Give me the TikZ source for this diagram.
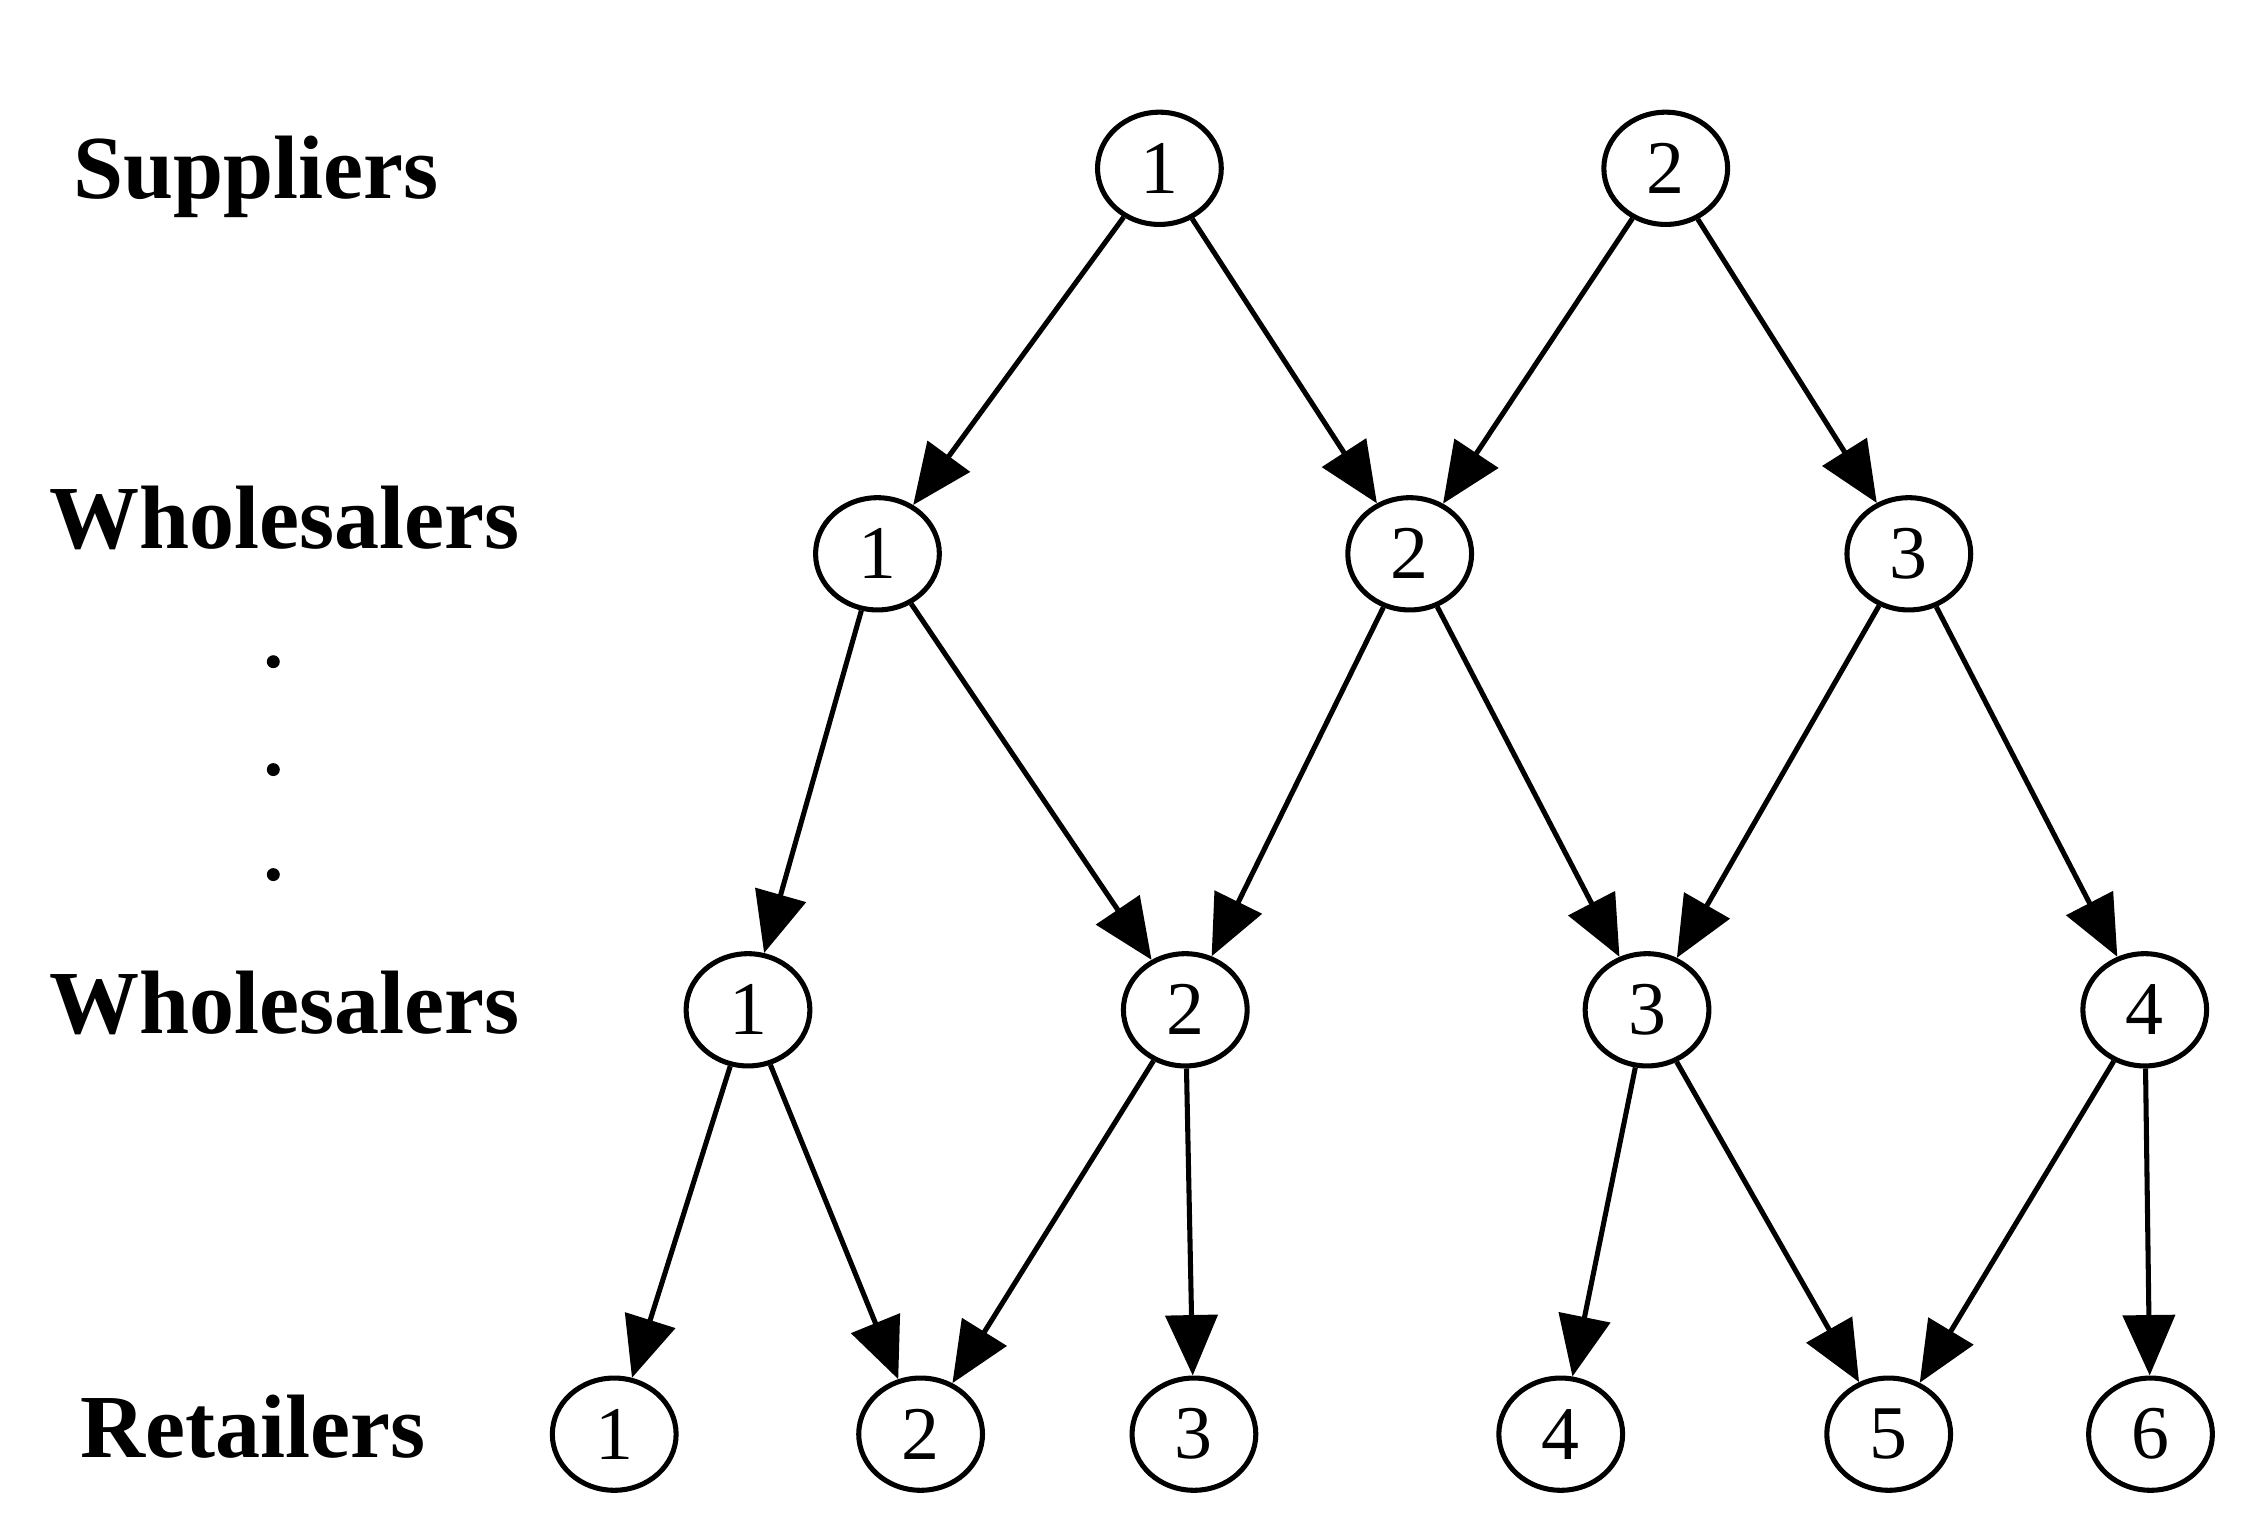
\documentclass[tikz,border=0pt]{standalone}
\usepackage{fontspec}
\setmainfont{Liberation Serif}
\usetikzlibrary{arrows.meta,shapes.geometric}
\begin{document}
\begin{tikzpicture}[x=0.01cm,y=-0.01cm,
  nd/.style={draw,ellipse,line width=1pt,minimum width=0.86cm,minimum height=0.78cm,inner sep=0pt,font=\fontsize{15}{15}\selectfont},
  lab/.style={font=\bfseries\fontsize{17.8}{18}\selectfont},
  ar/.style={-{Triangle[length=0.42cm,width=0.36cm]},line width=1pt}]
\useasboundingbox (0,0) rectangle (1560,1069);
\node[lab] (ls) at (178,123) {Suppliers};
\node[lab] (lw1) at (198,360) {Wholesalers};
\node[lab] (lw2) at (198,697) {Wholesalers};
\node[lab] (lr) at (176,992) {Retailers};
\foreach \y/\n in {460/a,535/b,608/c} \fill (190,\y) circle (0.045cm);
\node[nd] (s1) at (806,117) {1};
\node[nd] (s2) at (1158,117) {2};
\node[nd] (w1) at (610,385) {1};
\node[nd] (w2) at (980,385) {2};
\node[nd] (w3) at (1327,385) {3};
\node[nd] (v1) at (520,702) {1};
\node[nd] (v2) at (824,702) {2};
\node[nd] (v3) at (1145,702) {3};
\node[nd] (v4) at (1491,702) {4};
\node[nd] (r1) at (427,997) {1};
\node[nd] (r2) at (640,997) {2};
\node[nd] (r3) at (830,997) {3};
\node[nd] (r4) at (1085,997) {4};
\node[nd] (r5) at (1313,997) {5};
\node[nd] (r6) at (1495,997) {6};
\foreach \a/\b in {s1/w1,s1/w2,s2/w2,s2/w3,w1/v1,w1/v2,w2/v2,w2/v3,w3/v3,w3/v4,v1/r1,v1/r2,v2/r2,v2/r3,v3/r4,v3/r5,v4/r5,v4/r6}
  \draw[ar] (\a) -- (\b);
\end{tikzpicture}
\end{document}
